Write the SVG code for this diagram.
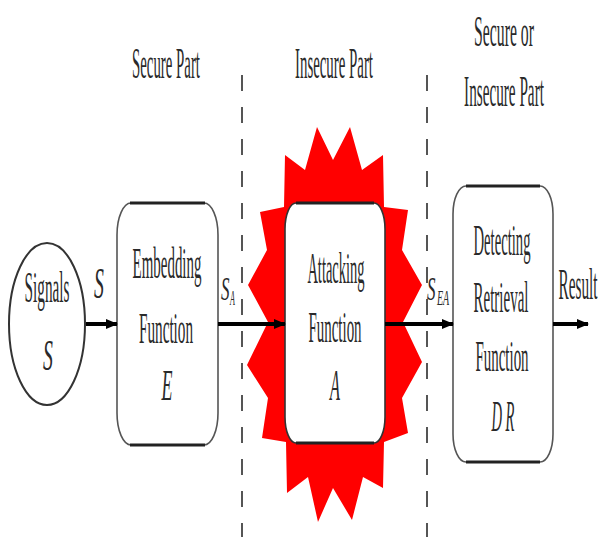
<svg xmlns="http://www.w3.org/2000/svg" width="598" height="537" viewBox="0 0 598 537">
<defs>
<style>
.t{font-family:"Liberation Serif","Times New Roman",serif;font-size:44px;fill:#2a2a2a;text-anchor:middle}
.i{font-style:italic}
.s{font-family:"Liberation Serif","Times New Roman",serif;font-size:34px;fill:#2a2a2a;font-style:italic}
.sub{font-family:"Liberation Serif","Times New Roman",serif;font-size:20px;fill:#2a2a2a;font-style:italic}
.box{fill:#fff;stroke:#555;stroke-width:1.6}
.edge{stroke:#222;stroke-width:3;fill:none}
.conn{stroke:#000;stroke-width:4;fill:none;marker-end:url(#ah)}
.dash{stroke:#555;stroke-width:2;stroke-dasharray:16 16;fill:none}
</style>
<marker id="ah" markerUnits="userSpaceOnUse" markerWidth="12" markerHeight="12" refX="11" refY="6" orient="auto">
<path d="M0,1 L12,6 L0,11 z" fill="#000"/>
</marker>
</defs>
<rect width="598" height="537" fill="#fff"/>

<g id="headers">
<text class="t" transform="translate(166,78) scale(0.337,1)">Secure Part</text>
<text class="t" transform="translate(334,78) scale(0.338,1)">Insecure Part</text>
<text class="t" transform="translate(504,46) scale(0.358,1)">Secure or</text>
<text class="t" transform="translate(504,106) scale(0.346,1)">Insecure Part</text>
</g>

<g id="dividers">
<line class="dash" x1="242" y1="75" x2="242" y2="537"/>
<line class="dash" x1="427" y1="75" x2="427" y2="537"/>
</g>

<g id="signals">
<ellipse cx="47" cy="324" rx="38" ry="81" fill="#fff" stroke="#333" stroke-width="2"/>
<text class="t" transform="translate(47,302) scale(0.347,1)">Signals</text>
<text class="t i" transform="translate(48,370) scale(0.45,1)">S</text>
</g>

<g id="embedding">
<rect class="box" x="117" y="203" width="101" height="242" rx="14" ry="32"/>
<line class="edge" x1="130" y1="203" x2="205" y2="203"/>
<line class="edge" x1="130" y1="445" x2="205" y2="445"/>
<text class="t" transform="translate(167,278) scale(0.34,1)">Embedding</text>
<text class="t" transform="translate(166,343) scale(0.346,1)">Function</text>
<text class="t i" transform="translate(167,400) scale(0.41,1)">E</text>
</g>

<g id="attacking">
<polygon fill="#ff0000" points="285,155 305,170 317,127 333,160 350,127 362,170 383,155 384,207 408,210 402,250 422,285 403,322 422,362 402,398 408,433 384,442 383,488 363,477 352,520 333,488 318,522 308,477 287,493 286,442 262,438 268,398 247,365 268,322 248,285 267,250 260,212 284,207"/>
<rect x="285" y="203" width="100" height="240" rx="11" ry="26" fill="#fff" stroke="#333" stroke-width="1.6"/>
<line class="edge" x1="296" y1="203" x2="374" y2="203"/>
<line class="edge" x1="296" y1="443" x2="374" y2="443"/>
<text class="t" transform="translate(336,283) scale(0.33,1)">Attacking</text>
<text class="t" transform="translate(335,342) scale(0.34,1)">Function</text>
<text class="t i" transform="translate(335,400) scale(0.37,1)">A</text>
</g>

<g id="detecting">
<rect class="box" x="453" y="186" width="100" height="276" rx="13" ry="28"/>
<line class="edge" x1="466" y1="186" x2="540" y2="186"/>
<line class="edge" x1="466" y1="462" x2="540" y2="462"/>
<text class="t" transform="translate(502,255) scale(0.333,1)">Detecting</text>
<text class="t" transform="translate(501,312) scale(0.341,1)">Retrieval</text>
<text class="t" transform="translate(502,371) scale(0.34,1)">Function</text>
<text class="t i" transform="translate(503,431) scale(0.33,1)">D R</text>
</g>

<g id="connectors">
<line class="conn" x1="86" y1="324" x2="117" y2="324"/>
<line class="conn" x1="218" y1="324" x2="285" y2="324"/>
<line class="conn" x1="385" y1="324" x2="453" y2="324"/>
<line class="conn" x1="553" y1="324" x2="588" y2="324"/>
</g>

<g id="labels">
<text class="t i" transform="translate(99,298) scale(0.45,1)">S</text>
<text class="s" transform="translate(221,300) scale(0.5,1)">S</text>
<text class="sub" transform="translate(230,305) scale(0.4,1)">A</text>
<text class="s" transform="translate(427,300) scale(0.5,1)">S</text>
<text class="sub" transform="translate(437,305) scale(0.5,1)">EA</text>
<text class="t" transform="translate(578,299) scale(0.347,1)">Result</text>
</g>
</svg>
